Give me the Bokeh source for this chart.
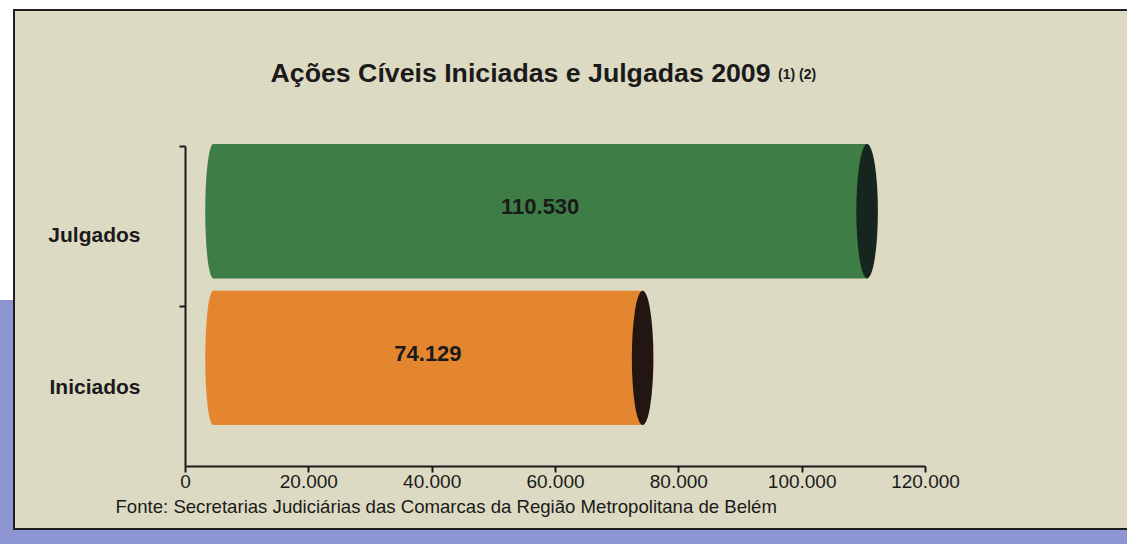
import re
from bokeh.plotting import figure
from bokeh.models import Range1d, FixedTicker, LinearAxis, Title, ColumnDataSource
from bokeh.core.properties import value
from bokeh.embed import file_html
from bokeh.resources import INLINE

# ---- data ----
categories = ["Iniciados", "Julgados"]
counts = [74129, 110530]
x_ticks = [0, 20000, 40000, 60000, 80000, 100000, 120000]
x_tick_labels = ["0", "20.000", "40.000", "60.000", "80.000", "100.000", "120.000"]
title_text = "Ações Cíveis Iniciadas e Julgadas 2009"
title_note = "(1) (2)"
source_text = "Fonte: Secretarias Judiciárias das Comarcas da Região Metropolitana de Belém"

# ---- style ----
BG = "#dddac3"
INK = "#1a1a1a"
body_colors = ["#e4852f", "#3f7d46"]
end_colors = ["#231612", "#16261e"]
FONT = "Liberation Sans"
bar_lift = 0.179     # 3D lift of the cylinders inside their band
bar_pitch = 0.917    # perspective: cylinders sit a bit closer than the bands
bar_h = 0.84
cap_x0 = 4500        # where the cylinder body starts (3D offset)
left_cap_w = 2600
right_cap_w = 3500
Y_TOP = 2.845        # frame extends up to the title area

def fmt(v):
    return f"{v:,}".replace(",", ".")

ys = [0.5 + bar_lift + i * bar_pitch for i in range(len(categories))]
src = ColumnDataSource(dict(
    y=ys,
    right=counts,
    left=[cap_x0] * len(counts),
    mid=[(cap_x0 + c) / 2 for c in counts],
    body=body_colors,
    end=end_colors,
    label=[fmt(c) for c in counts],
    label_y=[y + 0.03 for y in ys],
))

p = figure(width=1116, height=517,
           x_range=Range1d(0, 120000), y_range=Range1d(0, Y_TOP),
           x_axis_type=None, y_axis_type=None,
           output_backend="svg", toolbar_location=None,
           min_border_left=170, min_border_right=208,
           min_border_top=0, min_border_bottom=66,
           background_fill_color=None, border_fill_color=None,
           outline_line_color=None,
           styles={"box-sizing": "content-box",
                   "background-color": BG,
                   "border-left": "2px solid #1e1e1e",
                   "border-top": "2px solid #1e1e1e",
                   "border-bottom": "2px solid #1e1e1e",
                   "border-right": "none",
                   "margin-left": "13px",
                   "margin-top": "9px"})

# cylinders
p.ellipse(x="left", y="y", width=left_cap_w, height=bar_h, source=src,
          fill_color="body", line_color=None)
p.hbar(y="y", left="left", right="right", height=bar_h, source=src,
       fill_color="body", line_color=None)
p.ellipse(x="right", y="y", width=right_cap_w, height=bar_h, source=src,
          fill_color="end", line_color=None)
p.text(x="mid", y="label_y", text="label", source=src,
       text_align="center", text_baseline="middle",
       text_font=value(FONT), text_font_style="bold",
       text_font_size="22px", text_color=INK)

# title and note inside the (extended) frame
p.text(x=[13800], y=[2.462], text=[title_text],
       text_align="left", text_baseline="alphabetic",
       text_font=value(FONT), text_font_style="bold",
       text_font_size="26.7px", text_color=INK)
p.text(x=[96100], y=[2.455], text=[title_note],
       text_align="left", text_baseline="alphabetic",
       text_font=value(FONT), text_font_style="bold",
       text_font_size="14px", text_color=INK)

# axes
xaxis = LinearAxis(ticker=FixedTicker(ticks=x_ticks),
                   major_label_overrides={t: l for t, l in zip(x_ticks, x_tick_labels)})
xaxis.axis_line_width = 2
xaxis.axis_line_color = INK
xaxis.major_tick_line_width = 2
xaxis.major_tick_line_color = INK
xaxis.major_tick_in = 0
xaxis.major_tick_out = 6
xaxis.minor_tick_line_color = None
xaxis.major_label_standoff = 2
xaxis.major_label_text_font = FONT
xaxis.major_label_text_font_size = "19px"
xaxis.major_label_text_color = INK
p.add_layout(xaxis, "below")

label_pos = [0.5, 1.45]
yaxis = LinearAxis(ticker=FixedTicker(ticks=label_pos, minor_ticks=[1, 2]),
                   bounds=(0, 2),
                   major_label_overrides={t: c for t, c in zip(label_pos, categories)})
yaxis.axis_line_width = 2
yaxis.axis_line_color = INK
yaxis.major_tick_line_color = None
yaxis.minor_tick_line_width = 2
yaxis.minor_tick_line_color = INK
yaxis.minor_tick_in = 0
yaxis.minor_tick_out = 6
yaxis.major_label_standoff = 39
yaxis.major_label_text_font = FONT
yaxis.major_label_text_font_style = "bold"
yaxis.major_label_text_font_size = "21px"
yaxis.major_label_text_color = INK
p.add_layout(yaxis, "left")

# source line below the axis
p.add_layout(Title(text=source_text, align="left", offset=-70, standoff=7,
                   text_font=FONT, text_font_style="normal",
                   text_font_size="18.6px", text_color=INK), "below")

html = file_html(p, INLINE, title="Ações Cíveis Iniciadas e Julgadas 2009")
page_css = ("<style>html, body { overflow: hidden !important; } "
            "body { background: linear-gradient(to bottom, #ffffff 300px, #8c94d2 300px) !important; }"
            "</style>")
html = html.replace("</head>", page_css + "</head>", 1)
open("out.html", "w").write(html)
